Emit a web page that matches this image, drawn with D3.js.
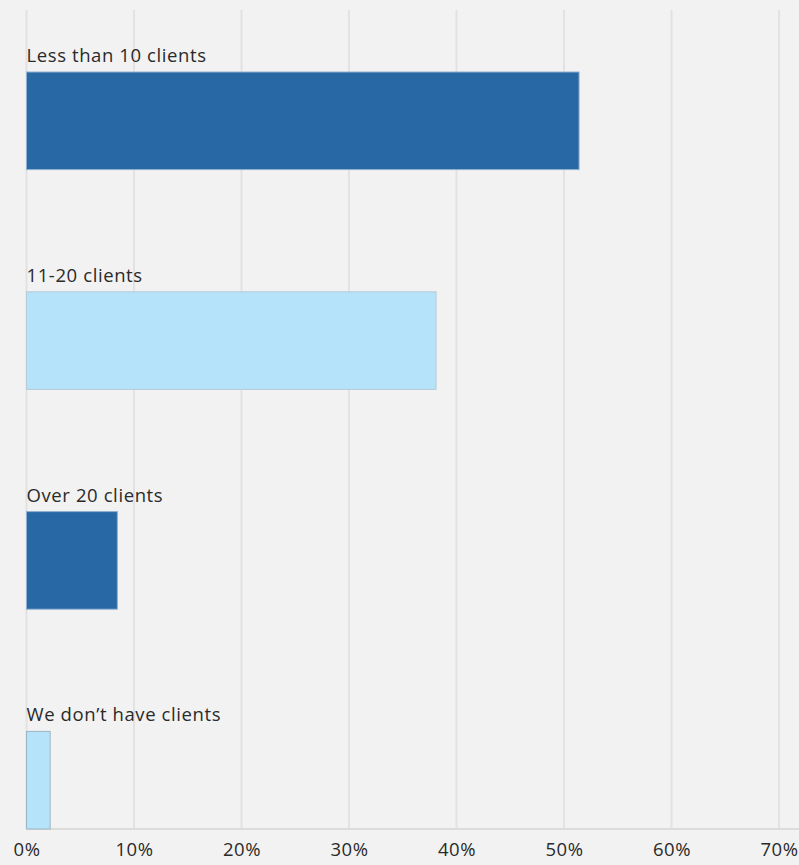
<!DOCTYPE html>
<html>
<head>
<meta charset="utf-8">
<script src="https://cdn.jsdelivr.net/npm/d3@7"></script>
<style>
  html, body { margin: 0; padding: 0; background: #f2f2f2; }
  svg { display: block; }
  text { font-family: "Open Sans", Lato, sans-serif; }
</style>
</head>
<body>
<script>
const categories = ["Less than 10 clients", "11-20 clients", "Over 20 clients", "We don\u2019t have clients"];
const values = [51.4, 38.1, 8.45, 2.2];
const fills = ["#2868a5", "#b4e3fa", "#2868a5", "#b4e3fa"];
const strokes = ["#8fb0cf", "#b9cbd6", "#8fb0cf", "#9fb4c2"];
const tickValues = [0, 10, 20, 30, 40, 50, 60, 70];

const W = 799, H = 865;
const svg = d3.select("body").append("svg").attr("width", W).attr("height", H);
svg.append("rect").attr("width", W).attr("height", H).attr("fill", "#f2f2f2");

const x = d3.scaleLinear().domain([0, 70]).range([26.5, 779]);
const y = d3.scaleBand().domain(categories).range([72, 829]).paddingInner(0.556).paddingOuter(0);

// gridlines
svg.append("g").selectAll("line").data(tickValues).join("line")
  .attr("x1", d => x(d)).attr("x2", d => x(d))
  .attr("y1", 10).attr("y2", 829)
  .attr("stroke", "#e2e2e2").attr("stroke-width", 2);

// bottom axis line
svg.append("line").attr("x1", 26).attr("x2", W).attr("y1", 829).attr("y2", 829)
  .attr("stroke", "#dcdcdc").attr("stroke-width", 2);

// bars
svg.append("g").selectAll("rect").data(categories).join("rect")
  .attr("x", x(0))
  .attr("y", d => y(d))
  .attr("width", (d, i) => x(values[i]) - x(0))
  .attr("height", y.bandwidth())
  .attr("fill", (d, i) => fills[i])
  .attr("stroke", (d, i) => strokes[i])
  .attr("stroke-width", 1);

// category labels
svg.append("g").selectAll("text").data(categories).join("text")
  .attr("x", x(0))
  .attr("y", d => y(d) - 10)
  .attr("font-size", 18.5)
  .attr("letter-spacing", 0.6)
  .attr("fill", "#2a2a2a")
  .text(d => d);

// x axis
const axis = d3.axisBottom(x).tickValues(tickValues).tickFormat(d => d + "%").tickSize(0);
const gx = svg.append("g").attr("transform", "translate(0,829)").call(axis);
gx.select(".domain").remove();
gx.selectAll("text").attr("font-size", 18.5).attr("fill", "#2a2a2a")
  .attr("letter-spacing", 0.6)
  .attr("dy", null).attr("y", 27).style("font-family", "'Open Sans', Lato, sans-serif");
</script>
</body>
</html>
